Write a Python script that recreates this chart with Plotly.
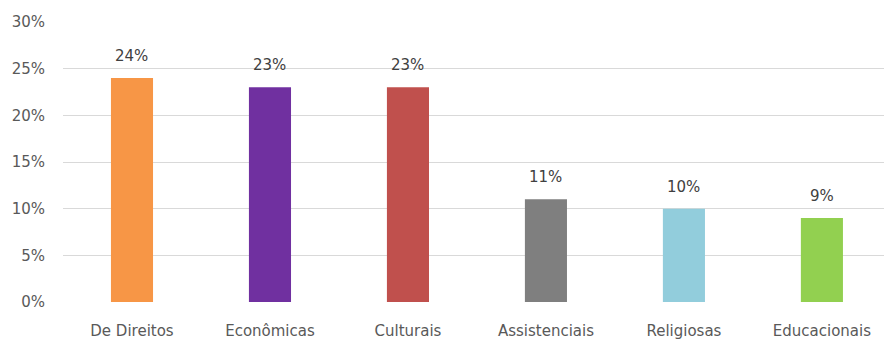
import plotly.graph_objects as go

categories = ["De Direitos", "Econômicas", "Culturais", "Assistenciais", "Religiosas", "Educacionais"]
values = [24, 23, 23, 11, 10, 9]
colors = ["#F79646", "#7030A0", "#C0504D", "#7F7F7F", "#92CDDC", "#92D050"]
yticks = [0, 5, 10, 15, 20, 25, 30]

xpos = list(range(len(categories)))
font = "DejaVu Sans, sans-serif"

fig = go.Figure(go.Bar(
    x=xpos, y=values, marker=dict(color=colors, line=dict(width=0)),
    width=0.305, hoverinfo="skip",
))

for x, v in zip(xpos, values):
    fig.add_annotation(x=x, y=v, text=f"{v}%", showarrow=False, yanchor="bottom",
                       yshift=11, font=dict(family=font, size=15, color="#404040"))

fig.update_layout(
    width=884, height=341,
    margin=dict(l=63, r=0, t=22, b=39),
    plot_bgcolor="white", paper_bgcolor="white",
    showlegend=False,
    xaxis=dict(range=[-0.5, 5.45], tickmode="array", tickvals=xpos, ticktext=categories,
               showgrid=False, zeroline=False, showline=False, ticks="",
               tickfont=dict(family=font, size=15, color="#595959"), ticklabelstandoff=18),
    yaxis=dict(range=[0, 30], tickmode="array", tickvals=yticks,
               ticktext=[f"{t}%" for t in yticks],
               showgrid=True, gridcolor="#D9D9D9", gridwidth=1, zeroline=False,
               showline=False, ticks="",
               tickfont=dict(family=font, size=15, color="#595959"), ticklabelstandoff=17),
)

fig.write_html("out.html")
